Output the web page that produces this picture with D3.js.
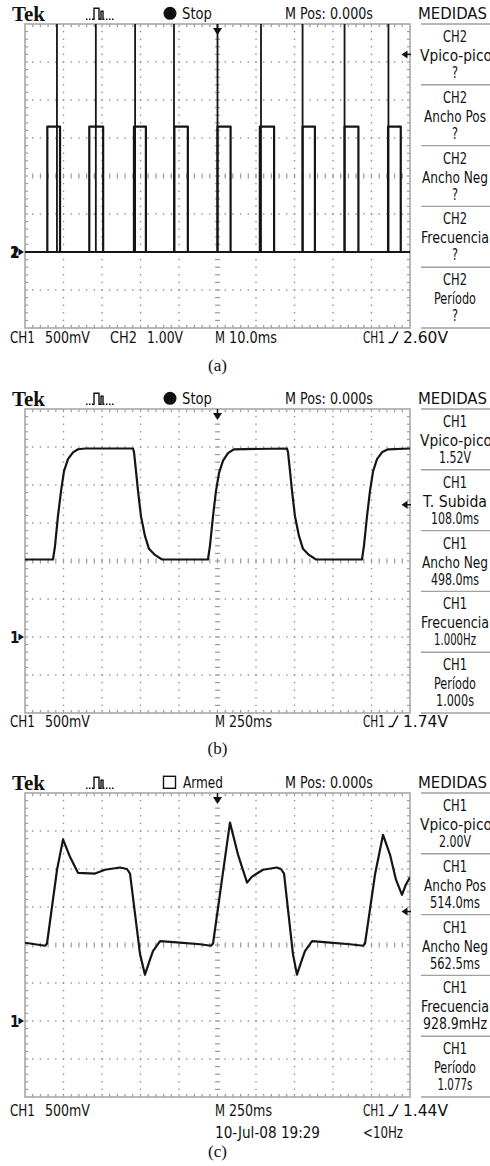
<!DOCTYPE html>
<html>
<head>
<meta charset="utf-8">
<script src="https://cdn.jsdelivr.net/npm/d3@7"></script>
<style>
    body { margin: 0; background: #fff; }
    svg text { font-family: "Liberation Sans Narrow", "DejaVu Sans Condensed", "Liberation Sans", sans-serif; fill: #111; }
    svg text.tek { font-family: "Liberation Serif", "Times New Roman", serif; font-weight: bold; }
    svg text.cap { font-family: "Liberation Serif", "Times New Roman", serif; }
</style>
</head>
<body>
<div id="chart"></div>
<script>

// (a) CH2 pulse train, times in ms, level in V
const aPulseRise = [-44.2, -33.3, -21.7, -11.2, 0.0, 11.0, 22.1, 33.0, 44.3];
const aPulseFall = [-40.9, -29.7, -18.6, -7.7, 3.4, 14.7, 25.3, 36.6, 47.6];
const aPulseHigh = 3.3;
// (a) CH1 spikes (go off the top of the screen)
const aSpikeTimes = [-41.7, -31.6, -21.4, -11.3, 0.0, 11.3, 22.1, 33.0, 44.4];
const aSpikeHigh = 3.4;

// (b) CH1 trace
const bTime = [-1250, -1068, -1055, -1036, -1016, -997, -971, -938, -906, -860,
    -549, -542, -529, -516, -497, -471, -445, -406, -360,
    -62, -49, -29, -10, 10, 36, 68, 107,
    451, 458, 471, 484, 503, 529, 555, 594, 640,
    938, 951, 971, 990, 1010, 1036, 1068, 1107, 1250];
const bVolt = [1.02, 1.02, 1.20, 1.59, 1.92, 2.18, 2.34, 2.43, 2.47, 2.48,
    2.48, 2.43, 2.18, 1.92, 1.59, 1.33, 1.16, 1.08, 1.02,
    1.02, 1.20, 1.59, 1.92, 2.16, 2.32, 2.42, 2.47,
    2.48, 2.43, 2.18, 1.92, 1.59, 1.33, 1.16, 1.08, 1.02,
    1.02, 1.20, 1.59, 1.92, 2.18, 2.34, 2.43, 2.47, 2.48];

// (c) CH1 trace
const cTime = [-1250, -1185, -1120, -1107, -1042, -1003, -958, -906, -795, -731,
    -633, -588, -568, -503, -471, -438, -419, -373, -244, -114,
    -42, -29, 29, 81, 133, 192, 224, 295, 386, 412,
    432, 490, 516, 549, 568, 614, 731, 860, 945, 958,
    1023, 1075, 1120, 1159, 1198, 1224, 1250];
const cVolt = [1.03, 1.01, 0.99, 1.02, 1.99, 2.39, 2.16, 1.95, 1.94, 1.99,
    2.02, 2.00, 1.94, 0.88, 0.61, 0.81, 0.92, 1.05, 1.03, 1.01,
    0.99, 1.02, 1.86, 2.61, 2.19, 1.82, 1.90, 1.99, 2.02, 2.00,
    1.94, 0.88, 0.61, 0.81, 0.92, 1.05, 1.03, 1.01, 0.99, 1.02,
    1.93, 2.45, 2.19, 1.86, 1.66, 1.80, 1.89];

// measurement side menus
const aMeasures = [["CH2", "Vpico-pico", "?"], ["CH2", "Ancho Pos", "?"], ["CH2", "Ancho Neg", "?"],
    ["CH2", "Frecuencia", "?"], ["CH2", "Período", "?"]];
const bMeasures = [["CH1", "Vpico-pico", "1.52V"], ["CH1", "T. Subida", "108.0ms"], ["CH1", "Ancho Neg", "498.0ms"],
    ["CH1", "Frecuencia", "1.000Hz"], ["CH1", "Período", "1.000s"]];
const cMeasures = [["CH1", "Vpico-pico", "2.00V"], ["CH1", "Ancho Pos", "514.0ms"], ["CH1", "Ancho Neg", "562.5ms"],
    ["CH1", "Frecuencia", "928.9mHz"], ["CH1", "Período", "1.077s"]];

// scope settings
const timeDivs = [10, 250, 250];          // ms/div
const voltDivs = [0.5, 0.5, 0.5];         // V/div of CH1
const triggerLevels = [2.60, 1.74, 1.44]; // V on CH1
const states = ["Stop", "Stop", "Armed"];
const captions = ["(a)", "(b)", "(c)"];

// ---------- layout ----------
const W = 490, H = 1166;
const gx0 = 25, gx1 = 410, gh = 304;
const panelTops = [24, 409, 793];
const bottomRowY = [342.5, 726.5, 1115.5];
const captionY = [371, 754, 1157];

// widths of the screen strings as seen on the captures
const textWidth = {
    "CH1": 24, "CH2": 24, "Vpico-pico": 72, "Ancho Pos": 62, "Ancho Neg": 66, "Frecuencia": 68,
    "Período": 42, "T. Subida": 64, "?": 6, "1.52V": 32, "108.0ms": 48, "498.0ms": 48, "1.000Hz": 42,
    "1.000s": 38, "2.00V": 32, "514.0ms": 50, "562.5ms": 50, "928.9mHz": 64, "1.077s": 35
};

const svg = d3.select("#chart").append("svg")
    .attr("width", W)
    .attr("height", H);

function txt(g, s, x, y, w, anchor = "start", size = 15.5) {
    let t = g.append("text")
        .attr("x", x).attr("y", y)
        .attr("font-size", size)
        .attr("text-anchor", anchor)
        .text(s);
    if (w) t.attr("textLength", w).attr("lengthAdjust", "spacingAndGlyphs");
    return t;
}

function drawPanel(i) {
    let top = panelTops[i], bot = top + gh;
    let g = svg.append("g");

    let x = d3.scaleLinear().domain([-5 * timeDivs[i], 5 * timeDivs[i]]).range([gx0, gx1]);
    let y = d3.scaleLinear().domain([-2 * voltDivs[i], 6 * voltDivs[i]]).range([bot, top]);
    let divW = (gx1 - gx0) / 10, divH = gh / 8;
    let grid = g.append("g").attr("fill", "#8f8f8f").attr("stroke", "#9a9a9a");

    // dotted division lines
    for (let c = 1; c < 10; c++) {
        if (c === 5) continue;
        for (let k = 1; k < 40; k++)
            grid.append("rect").attr("x", gx0 + c * divW - 0.7).attr("y", top + k * divH / 5 - 0.7)
                .attr("width", 1.4).attr("height", 1.4).attr("stroke", "none");
    }
    for (let r = 1; r < 8; r++) {
        if (r === 4) continue;
        for (let k = 1; k < 50; k++)
            grid.append("rect").attr("x", gx0 + k * divW / 5 - 0.7).attr("y", top + r * divH - 0.7)
                .attr("width", 1.4).attr("height", 1.4).attr("stroke", "none");
    }
    // center cross with minor ticks
    let cx = gx0 + 5 * divW, cy = top + 4 * divH;
    for (let k = 1; k < 40; k++)
        grid.append("line").attr("x1", cx - 2.5).attr("x2", cx + 2.5)
            .attr("y1", top + k * divH / 5).attr("y2", top + k * divH / 5).attr("stroke-width", 1.2);
    for (let k = 1; k < 50; k++)
        grid.append("line").attr("y1", cy - 2.5).attr("y2", cy + 2.5)
            .attr("x1", gx0 + k * divW / 5).attr("x2", gx0 + k * divW / 5).attr("stroke-width", 1.2);
    // border ticks
    for (let k = 1; k < 50; k++) {
        let xx = gx0 + k * divW / 5;
        grid.append("line").attr("x1", xx).attr("x2", xx).attr("y1", top).attr("y2", top + 3).attr("stroke-width", 1.2);
        grid.append("line").attr("x1", xx).attr("x2", xx).attr("y1", bot).attr("y2", bot - 3).attr("stroke-width", 1.2);
    }
    for (let k = 1; k < 40; k++) {
        let yy = top + k * divH / 5;
        grid.append("line").attr("x1", gx0).attr("x2", gx0 + 3).attr("y1", yy).attr("y2", yy).attr("stroke-width", 1.2);
        grid.append("line").attr("x1", gx1).attr("x2", gx1 - 3).attr("y1", yy).attr("y2", yy).attr("stroke-width", 1.2);
    }
    g.append("rect").attr("x", gx0).attr("y", top).attr("width", gx1 - gx0).attr("height", gh)
        .attr("fill", "none").attr("stroke", "#a8a8a8").attr("stroke-width", 1.6);

    // clip for traces
    let clipId = "clip" + i;
    g.append("clipPath").attr("id", clipId).append("rect")
        .attr("x", gx0).attr("y", top).attr("width", gx1 - gx0).attr("height", gh);
    let traces = g.append("g").attr("clip-path", `url(#${clipId})`)
        .attr("fill", "none").attr("stroke", "#151515").attr("stroke-linejoin", "round");

    let line = d3.line().x(d => x(d[0])).y(d => y(d[1]));

    if (i === 0) {
        let y2 = d3.scaleLinear().domain([-2, 6]).range([bot, top]); // CH2 at 1.00V/div
        let ch2 = [[-50, 0]];
        aPulseRise.forEach((r, k) => {
            ch2.push([r, 0], [r, aPulseHigh], [aPulseFall[k], aPulseHigh], [aPulseFall[k], 0]);
        });
        ch2.push([50, 0]);
        traces.append("path")
            .attr("d", d3.line().x(d => x(d[0])).y(d => y2(d[1]))(ch2))
            .attr("stroke-width", 2.2);
        let ch1 = [[-50, 0]];
        aSpikeTimes.forEach(t => ch1.push([t, 0], [t, aSpikeHigh], [t, 0]));
        ch1.push([50, 0]);
        traces.append("path").attr("d", line(ch1)).attr("stroke-width", 1.8);
    } else {
        let tt = i === 1 ? bTime : cTime, vv = i === 1 ? bVolt : cVolt;
        traces.append("path").attr("d", line(tt.map((t, k) => [t, vv[k]])))
            .attr("stroke-width", 2.2);
    }

    // ground marker(s)
    let gy = y(0);
    let gm = g.append("g");
    if (i === 0) txt(gm, "2", 10, gy + 5.5, null, "start", 15).attr("font-weight", "bold");
    txt(gm, "1", 10, gy + 5.5, null, "start", 15).attr("font-weight", "bold");
    gm.append("path").attr("d", `M18.5,${gy - 3.5}L24,${gy}L18.5,${gy + 3.5}Z`).attr("fill", "#111");

    // trigger position (top) and level (right) arrows
    g.append("line").attr("x1", cx).attr("x2", cx).attr("y1", top).attr("y2", top + 5)
        .attr("stroke", "#111").attr("stroke-width", 1.5);
    g.append("path").attr("d", `M${cx - 4.5},${top + 4}L${cx + 4.5},${top + 4}L${cx},${top + 11}Z`).attr("fill", "#111");
    let ty = y(triggerLevels[i]);
    g.append("path").attr("d", `M401.5,${ty}L407.5,${ty - 4}L407.5,${ty + 4}Z`).attr("fill", "#111");
    g.append("line").attr("x1", 405).attr("x2", 411).attr("y1", ty).attr("y2", ty)
        .attr("stroke", "#111").attr("stroke-width", 1.5);

    // header
    let hy = top - 4.7;
    txt(g, "Tek", 12, top - 3.5, 33, "start", 20).attr("class", "tek");
    g.append("path")
        .attr("d", `M86,${hy}h1.5M89,${hy}h1.5M92,${hy}h2V${hy - 11}h5V${hy}h2V${hy - 8}h2V${hy}h1.5M106,${hy}h1.5M109,${hy}h1.5M112,${hy}h1.5`)
        .attr("fill", "none").attr("stroke", "#111").attr("stroke-width", 1.4);
    if (states[i] === "Stop") {
        g.append("circle").attr("cx", 170).attr("cy", hy - 6).attr("r", 6.5).attr("fill", "#111");
        txt(g, "Stop", 182, hy, 30);
    } else {
        g.append("rect").attr("x", 163.5).attr("y", hy - 12).attr("width", 12).attr("height", 12)
            .attr("fill", "none").attr("stroke", "#111").attr("stroke-width", 1.4);
        txt(g, "Armed", 183, hy, 40);
    }
    txt(g, "M Pos: 0.000s", 285, hy, 88);
    txt(g, "MEDIDAS", 418, hy, 69);

    // side menu
    let meas = [aMeasures, bMeasures, cMeasures][i];
    let boxH = gh / 5;
    for (let k = 0; k <= 5; k++)
        g.append("line").attr("x1", 421).attr("x2", W).attr("y1", top + k * boxH).attr("y2", top + k * boxH)
            .attr("stroke", "#a0a0a0").attr("stroke-width", 1.4);
    meas.forEach((m, k) => {
        let by = top + k * boxH;
        [18, 37, 54].forEach((dy, j) => {
            let s = m[j];
            let cxm = s === "Vpico-pico" ? 456 : 455;
            txt(g, s, cxm, by + dy, textWidth[s], "middle");
        });
    });

    // bottom readout
    let ry = bottomRowY[i];
    txt(g, "CH1", 10, ry, 25);
    txt(g, "500mV", 45, ry, 45);
    if (i === 0) {
        txt(g, "CH2", 110, ry, 27);
        txt(g, "1.00V", 147, ry, 36);
    }
    txt(g, "M", 215, ry, 10);
    txt(g, timeDivs[i] < 100 ? "10.0ms" : "250ms", 229, ry, timeDivs[i] < 100 ? 48 : 43);
    txt(g, "CH1", 363, ry, 22);
    g.append("path").attr("d", `M388.5,${ry}H392.5L398,${ry - 11}`)
        .attr("fill", "none").attr("stroke", "#111").attr("stroke-width", 1.4);
    txt(g, triggerLevels[i].toFixed(2) + "V", 403, ry, 45);
    if (i === 2) {
        txt(g, "10-Jul-08 19:29", 215, ry + 22, 105);
        txt(g, "<10Hz", 363, ry + 22, 40);
    }

    txt(g, captions[i], 217.5, captionY[i], null, "middle", 17).attr("class", "cap");
}

[0, 1, 2].forEach(drawPanel);
</script>
</body>
</html>
